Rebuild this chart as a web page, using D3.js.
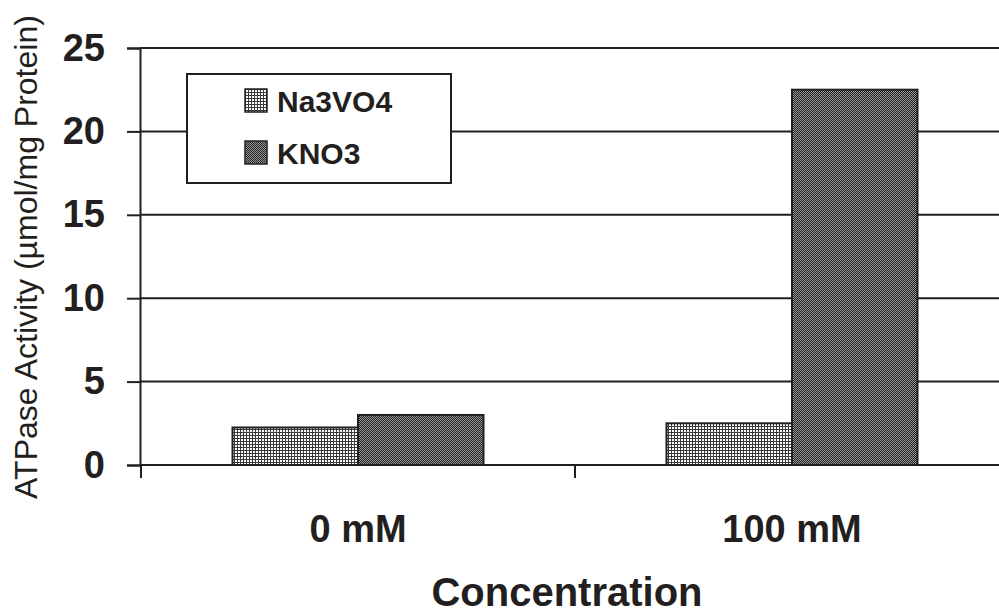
<!DOCTYPE html>
<html>
<head>
<meta charset="utf-8">
<script src="https://cdn.jsdelivr.net/npm/d3@7"></script>
<style>
  body { margin: 0; background: #fff; }
  svg { display: block; font-family: Arial, "Liberation Sans", sans-serif; }
</style>
</head>
<body>
<script>
let categories = ['0 mM', '100 mM']
let seriesNames = ['Na3VO4', 'KNO3']
let na3vo4 = [2.25, 2.5]
let kno3 = [3.0, 22.5]
let yTicks = [0, 5, 10, 15, 20, 25]

let dataset = categories.map((c, i) => ({cat: c, Na3VO4: na3vo4[i], KNO3: kno3[i]}))

let width = 999, height = 616
let ink = '#231f20'

let svg = d3.select('body').append('svg')
  .attr('width', width)
  .attr('height', height)

// fill patterns like the old excel hatches
let defs = svg.append('defs')
let p1 = defs.append('pattern').attr('id', 'pat-Na3VO4')
  .attr('width', 3).attr('height', 3).attr('patternUnits', 'userSpaceOnUse')
p1.append('rect').attr('width', 3).attr('height', 3).attr('fill', '#fff')
p1.append('rect').attr('width', 3).attr('height', 1).attr('fill', '#3a3a3a')
p1.append('rect').attr('width', 1).attr('height', 3).attr('fill', '#3a3a3a')

let p2 = defs.append('pattern').attr('id', 'pat-KNO3')
  .attr('width', 2).attr('height', 2).attr('patternUnits', 'userSpaceOnUse')
p2.append('rect').attr('width', 2).attr('height', 2).attr('fill', '#9a9a9a')
p2.append('rect').attr('width', 1).attr('height', 1).attr('fill', '#1e1e1e')
p2.append('rect').attr('x', 1).attr('y', 1).attr('width', 1).attr('height', 1).attr('fill', '#1e1e1e')

let x0 = d3.scaleBand().domain(categories).range([141, 1009]).paddingInner(0).paddingOuter(0)
let x1 = d3.scaleBand().domain(seriesNames).range([0, x0.bandwidth()]).paddingInner(0).paddingOuter(0.729)
let y = d3.scaleLinear().domain([0, 25]).range([465, 48])

// gridlines
svg.append('g')
  .selectAll('line')
  .data(yTicks.filter(d => d > 0))
  .enter().append('line')
  .attr('x1', 140).attr('x2', width)
  .attr('y1', d => y(d)).attr('y2', d => y(d))
  .attr('stroke', ink).attr('stroke-width', 2)

// bars
svg.append('g')
  .selectAll('g')
  .data(dataset)
  .enter().append('g')
  .attr('transform', d => 'translate(' + x0(d.cat) + ',0)')
  .selectAll('rect')
  .data(d => seriesNames.map(k => ({key: k, value: d[k]})))
  .enter().append('rect')
  .attr('x', d => x1(d.key))
  .attr('y', d => y(d.value))
  .attr('width', x1.bandwidth())
  .attr('height', d => y(0) - y(d.value))
  .attr('fill', d => 'url(#pat-' + d.key + ')')
  .attr('stroke', ink)
  .attr('stroke-width', 2)

// y axis
let yAxis = svg.append('g')
  .attr('transform', 'translate(140,0)')
  .call(d3.axisLeft(y).tickValues(yTicks).tickSize(13).tickPadding(22))
yAxis.select('.domain').attr('stroke', ink).attr('stroke-width', 2)
yAxis.selectAll('.tick line').attr('stroke', ink).attr('stroke-width', 2)
yAxis.selectAll('.tick text')
  .attr('fill', ink)
  .attr('font-size', 38)
  .attr('font-weight', 'bold')
  .attr('font-family', 'Arial, "Liberation Sans", sans-serif')

// x axis
let xAxis = svg.append('g')
  .attr('transform', 'translate(0,465)')
  .call(d3.axisBottom(x0).tickSize(0).tickPadding(50))
xAxis.select('.domain').remove()
xAxis.append('line').attr('x1', 140).attr('x2', width)
  .attr('stroke', ink).attr('stroke-width', 2)
xAxis.selectAll('.tick text')
  .attr('fill', ink)
  .attr('font-size', 38)
  .attr('font-weight', 'bold')
  .attr('font-family', 'Arial, "Liberation Sans", sans-serif')
// ticks at the band edges
xAxis.selectAll('.edge')
  .data(categories)
  .enter().append('line')
  .attr('x1', d => x0(d)).attr('x2', d => x0(d))
  .attr('y1', 0).attr('y2', 13)
  .attr('stroke', ink).attr('stroke-width', 2)

// axis titles
svg.append('text')
  .attr('x', 567).attr('y', 606)
  .attr('text-anchor', 'middle')
  .attr('font-size', 40)
  .attr('font-weight', 'bold')
  .attr('fill', ink)
  .text('Concentration')

svg.append('text')
  .attr('transform', 'translate(37,257) rotate(-90)')
  .attr('text-anchor', 'middle')
  .attr('font-size', 32)
  .attr('fill', ink)
  .text('ATPase Activity (µmol/mg Protein)')

// legend
let legend = svg.append('g').attr('transform', 'translate(187,74)')
legend.append('rect')
  .attr('width', 264).attr('height', 109)
  .attr('fill', '#fff')
  .attr('stroke', ink).attr('stroke-width', 2)

let items = legend.selectAll('.item')
  .data(seriesNames)
  .enter().append('g')
  .attr('transform', (d, i) => 'translate(58,' + (15 + i * 52) + ')')
items.append('rect')
  .attr('width', 22).attr('height', 23)
  .attr('fill', d => 'url(#pat-' + d + ')')
  .attr('stroke', ink).attr('stroke-width', 1.5)
items.append('text')
  .attr('x', 32).attr('y', 23)
  .attr('font-size', 30)
  .attr('font-weight', 'bold')
  .attr('fill', ink)
  .text(d => d)
</script>
</body>
</html>
